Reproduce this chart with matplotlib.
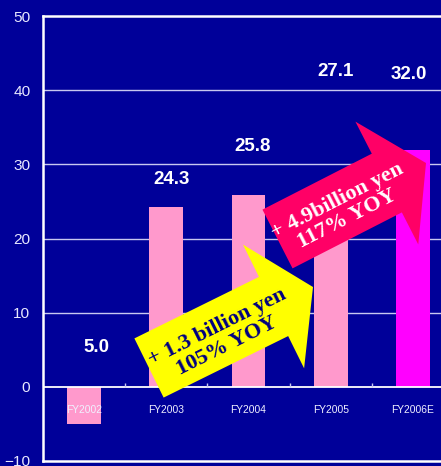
import matplotlib.pyplot as plt
from matplotlib import font_manager
from matplotlib.patches import FancyArrow

years = ['FY2002', 'FY2003', 'FY2004', 'FY2005', 'FY2006E']
sales = [-5.0, 24.3, 25.8, 27.1, 32.0]
bar_colors = ['#ff99cc', '#ff99cc', '#ff99cc', '#ff99cc', '#ff00ff']

# value labels sit a bit off the bars (data coords)
label_x = [0.15, 1.06, 2.05, 3.06, 3.95]
label_y = [5.3, 27.9, 32.4, 42.5, 42.1]

yoy_notes = ['+ 1.3 billion yen\n105% YOY', '+ 4.9billion yen\n117% YOY']

navy = '#000099'


def pick_font(names):
    for n in names:
        try:
            font_manager.findfont(n, fallback_to_default=False)
            return n
        except ValueError:
            pass
    return 'DejaVu Sans'


narrow = pick_font(['Liberation Sans Narrow', 'Arial Narrow',
                    'DejaVu Sans Condensed', 'Liberation Sans'])
# squeeze factor when no narrow face is around
squeeze = 1.0 if narrow in ('Liberation Sans Narrow', 'Arial Narrow') else 0.82

fig = plt.figure(figsize=(4.41, 4.66), dpi=100, facecolor=navy)
ax = fig.add_axes([43 / 441, 5 / 466, 411 / 441, 445 / 466])
ax.set_facecolor(navy)

xs = list(range(len(years)))
ax.bar(xs, sales, width=0.41, color=bar_colors, zorder=2)

ax.set_xlim(-0.5, 4.5)
ax.set_ylim(-10, 50)

# grid and zero line
for g in (10, 20, 30, 40):
    ax.axhline(g, color='#c8c8f0', lw=1, zorder=1)
ax.axhline(0, color='white', lw=1.3, zorder=2.5)
ax.vlines([0.5, 1.5, 2.5, 3.5], 0, 0.55, color='#c8c8f0', lw=1, zorder=2.5)

for s in ('top', 'left', 'bottom'):
    ax.spines[s].set_color('white')
    ax.spines[s].set_linewidth(1.8)
ax.spines['right'].set_visible(False)

ax.set_xticks([])
ax.set_yticks(range(-10, 51, 10))
ax.tick_params(axis='y', length=0, pad=9, labelcolor='#e8e8ff',
               labelsize=13.5 * squeeze)
for t in ax.get_yticklabels():
    t.set_family(narrow)

for i, name in enumerate(years):
    ax.text(i, -3.1, name, ha='center', va='center', color='#f0f0ff',
            fontsize=9 * squeeze, family=narrow, zorder=5)

for v, lx, ly in zip(sales, label_x, label_y):
    ax.text(lx, ly, f'{abs(v):.1f}', ha='center', va='center', color='white',
            fontsize=13.5, fontweight='bold', family='Liberation Sans', zorder=5)

# YOY arrows, drawn in pixel units so the shapes keep their angle
dpi = fig.dpi
arrows = [
    # x0, y0, dx, dy, colour, text colour, text centre, rotation
    (149, 98, 164, 81, '#ffff00', '#000080', (222, 129), 26.5),
    (277.5, 227, 148.5, 76, '#ff0066', 'white', (342, 256), 27),
]
for (x0, y0, dx, dy, fc, tc, (tx, ty), rot), note in zip(arrows, yoy_notes):
    arr = FancyArrow(x0 / dpi, y0 / dpi, dx / dpi, dy / dpi, width=66 / dpi,
                     head_width=138 / dpi, head_length=44 / dpi,
                     length_includes_head=True, facecolor=fc, edgecolor='none',
                     transform=fig.dpi_scale_trans, zorder=3)
    fig.add_artist(arr)
    fig.text(tx / dpi, ty / dpi, note, transform=fig.dpi_scale_trans,
             ha='center', va='center', multialignment='center',
             rotation=rot, rotation_mode='anchor', color=tc,
             fontsize=16, fontweight='bold', family='Liberation Serif',
             linespacing=1.05, zorder=4)

fig.savefig('out.png', dpi=100, facecolor=navy)
